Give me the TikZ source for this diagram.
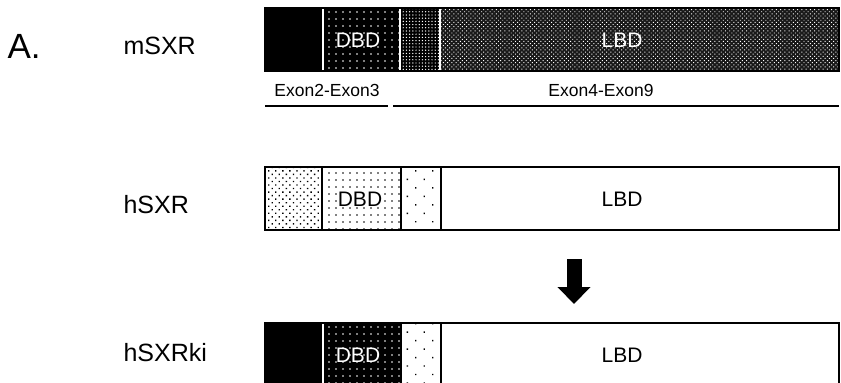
\documentclass[tikz,border=0pt]{standalone}
\usepackage{fontspec}
\setmainfont{Liberation Sans}
\usetikzlibrary{arrows.meta,patterns.meta}

\begin{document}
\begin{tikzpicture}[x=1pt,y=-1pt,
  lbl/.style={anchor=west,font=\fontsize{25}{30}\selectfont},
  dom/.style={font=\fontsize{21}{25}\selectfont,inner sep=1pt},
  exon/.style={font=\fontsize{17.5}{21}\selectfont},
  frame/.style={draw=black,line width=1.7pt},
  blk/.style={fill=black},
  wdots/.style={fill=black,postaction={pattern={Dots[distance=7pt,radius=0.9pt]},pattern color=white}},
  wdense/.style={fill=black,postaction={pattern={Dots[distance=3.2pt,radius=0.7pt]},pattern color=white}},
  wcheck/.style={fill=black!90,postaction={pattern={Dots[distance=3pt,angle=45,radius=0.68pt]},pattern color=white}},
  bdense/.style={pattern={Dots[distance=5pt,angle=45,radius=0.95pt]},pattern color=black},
  bdots/.style={pattern={Dots[distance=7pt,radius=0.95pt]},pattern color=black},
  bsparse/.style={pattern={Dots[distance=12pt,angle=45,radius=1pt]},pattern color=black},
  sep/.style={white,line width=1.2pt}]
\useasboundingbox (0,0) rectangle (841,383);

% labels
\node[anchor=west,font=\fontsize{35}{40}\selectfont] (tag) at (4,46) {A.};
\node[lbl] (msxr) at (120,46) {mSXR};
\node[lbl] (hsxr) at (120,205) {hSXR};
\node[lbl] (hsxrki) at (120,353) {hSXRki};

% mSXR
\fill[blk] (265,8) rectangle (323,71);
\fill[wdots] (323,8) rectangle (400,71);
\fill[wdense] (400,8) rectangle (440,71);
\fill[wcheck] (440,8) rectangle (839,71);
\draw[sep] (323,9) -- (323,70);
\draw[sep] (400,9) -- (400,70);
\draw[sep] (440,9) -- (440,70);
\draw[frame] (265,8) rectangle (839,71);
\node[dom,text=white] (mdbd) at (358,40) {DBD};
\node[dom,text=white] (mlbd) at (622,40) {LBD};

% exons
\draw[line width=1.7pt] (265,106) -- (388,106);
\draw[line width=1.7pt] (393,106) -- (839,106);
\node[exon] (ex23) at (327,90) {Exon2-Exon3};
\node[exon] (ex49) at (601,90) {Exon4-Exon9};

% hSXR
\fill[bdense] (265,167) rectangle (322,230);
\fill[bdots] (322,167) rectangle (401,230);
\fill[bsparse] (401,167) rectangle (441,230);
\draw[frame] (265,167) rectangle (839,230);
\draw[frame] (322,167) -- (322,230);
\draw[frame] (401,167) -- (401,230);
\draw[frame] (441,167) -- (441,230);
\node[dom,fill=white] (hdbd) at (360,199) {DBD};
\node[dom] (hlbd) at (622,199) {LBD};

% arrow
\coordinate (top) at (574,259);
\coordinate (tip) at (574,304);
\draw[line width=15pt,-{Triangle[width=32pt,length=17pt]}] (top) -- (tip);

% hSXRki
\fill[blk] (265,323) rectangle (323,388);
\fill[wdots] (323,323) rectangle (402,388);
\fill[bsparse] (402,323) rectangle (441,388);
\draw[sep] (323,324) -- (323,388);
\draw[frame] (265,323) rectangle (839,388);
\draw[frame] (441,323) -- (441,388);
\node[dom,text=white] (kdbd) at (358,355) {DBD};
\node[dom] (klbd) at (622,355) {LBD};
\end{tikzpicture}
\end{document}
